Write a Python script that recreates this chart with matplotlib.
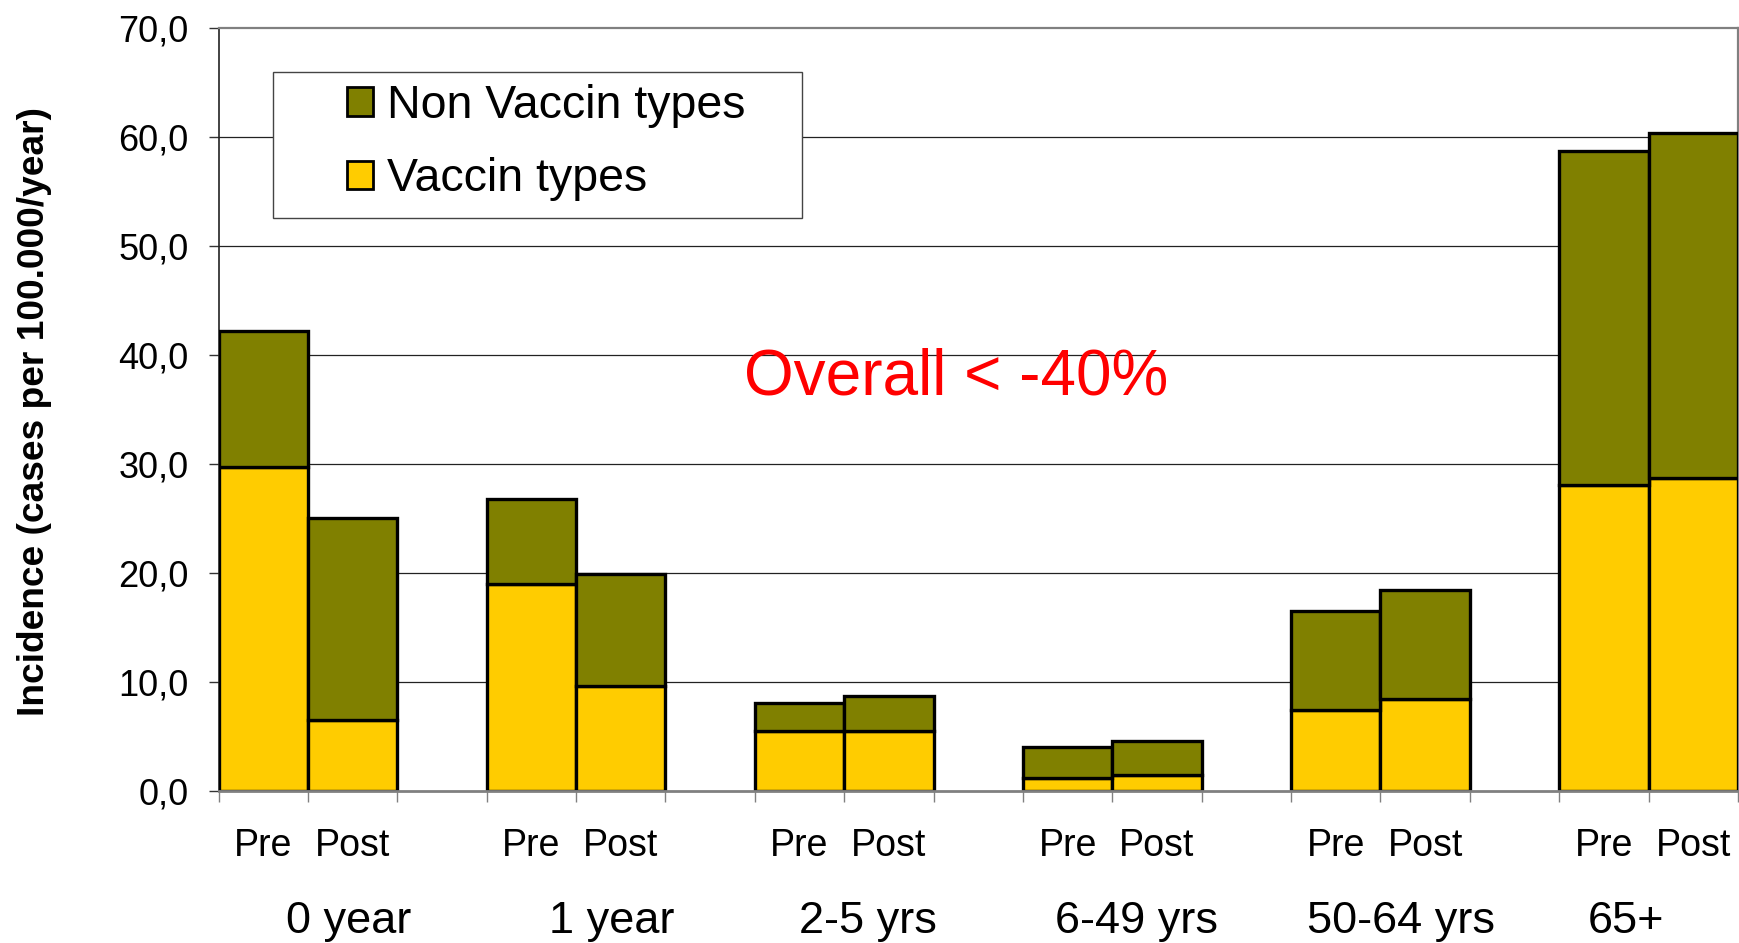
import numpy as np
import matplotlib
matplotlib.use("Agg")
import matplotlib.pyplot as plt
from matplotlib.patches import Patch, Rectangle
from matplotlib.transforms import blended_transform_factory

# Data (incidence per 100.000/year)
age_groups = ["0 year", "1 year", "2-5 yrs", "6-49 yrs", "50-64 yrs", "65+"]
periods = ["Pre", "Post"]
vaccin_pre = [29.7, 19.0, 5.5, 1.2, 7.4, 28.1]
vaccin_post = [6.5, 9.6, 5.5, 1.5, 8.4, 28.7]
non_vaccin_pre = [12.5, 7.8, 2.6, 2.8, 9.1, 30.6]
non_vaccin_post = [18.5, 10.3, 3.2, 3.1, 10.0, 31.6]
y_ticks = [0, 10, 20, 30, 40, 50, 60, 70]
y_tick_labels = ["0,0", "10,0", "20,0", "30,0", "40,0", "50,0", "60,0", "70,0"]

OLIVE = "#808000"
GOLD = "#FFCC00"

plt.rcParams["font.family"] = ["Liberation Sans", "DejaVu Sans"]

fig = plt.figure(figsize=(17.4, 9.43), dpi=100)
W, H = 1740, 943
# plot area in pixels: left 218.6, right 1738, top 27.7, bottom 791
ax = fig.add_axes([218.6 / W, 1 - 791 / H, (1738 - 218.6) / W, (791 - 27.7) / H])

# each age group takes 3 slots: Pre, Post, empty
slot = 3
for g in range(len(age_groups)):
    xs = [g * slot + 0.5, g * slot + 1.5]
    vac = [vaccin_pre[g], vaccin_post[g]]
    non = [non_vaccin_pre[g], non_vaccin_post[g]]
    ax.bar(xs, vac, width=1.0, color=GOLD, edgecolor="black", linewidth=2.4, zorder=3)
    ax.bar(xs, non, width=1.0, bottom=vac, color=OLIVE, edgecolor="black",
           linewidth=2.4, zorder=3)

ax.set_xlim(0, slot * len(age_groups) - 1)
ax.set_ylim(0, 70)

# gridlines
for v in y_ticks[1:-1]:
    ax.axhline(v, color="#222222", linewidth=0.9, zorder=1)

ax.set_yticks(y_ticks)
ax.set_yticklabels(y_tick_labels, fontsize=26)
ax.tick_params(axis="y", direction="out", length=7.5, width=1.0, color="#333333", pad=14)
ax.set_xticks(np.arange(0, slot * len(age_groups)))
ax.set_xticklabels([])
ax.tick_params(axis="x", direction="out", length=8, width=1.0, color="#808080")

for side in ["top", "right"]:
    ax.spines[side].set_color("#808080")
    ax.spines[side].set_linewidth(1.6)
ax.spines["bottom"].set_color("#808080")
ax.spines["bottom"].set_linewidth(2.0)
ax.spines["bottom"].set_zorder(4)
ax.spines["left"].set_color("#222222")
ax.spines["left"].set_linewidth(1.2)

# category labels under the axis
trans = blended_transform_factory(ax.transData, ax.transAxes)
for g in range(len(age_groups)):
    for i, p in enumerate(periods):
        ax.text(g * slot + 0.5 + i, -0.0852, p, transform=trans, ha="center",
                va="baseline", fontsize=27)

group_label_x = [1.45, 4.40, 7.27, 10.27, 13.23, 15.75]
for gx, lab in zip(group_label_x, age_groups):
    ax.text(gx, -0.186, lab, transform=trans, ha="center", va="baseline", fontsize=32.5)

ax.text(8.25, 36.4, "Overall < -40%", color="#FF0000", fontsize=46,
        ha="center", va="baseline", zorder=5)

# legend frame (pixels 273..802 x 71.7..218)
ax_w, ax_h = 1738 - 218.6, 791 - 27.7
frame = Rectangle(((273 - 218.6) / ax_w, (791 - 218) / ax_h),
                  (802 - 273) / ax_w, (218 - 71.7) / ax_h,
                  transform=ax.transAxes, facecolor="white", edgecolor="#444444",
                  linewidth=1.0, zorder=6, clip_on=False)
ax.add_patch(frame)

handles = [Patch(facecolor=OLIVE, edgecolor="black", linewidth=2.0, label="Non Vaccin types"),
           Patch(facecolor=GOLD, edgecolor="black", linewidth=2.0, label="Vaccin types")]
leg = ax.legend(handles=handles, loc="upper left",
                bbox_to_anchor=((347 - 218.6) / ax_w, (791 - 84) / ax_h),
                frameon=False, fontsize=33.5, borderaxespad=0, borderpad=0,
                handlelength=0.56, handleheight=0.56, handletextpad=0.3,
                labelspacing=0.63)
leg.set_zorder(7)

fig.text(35 / W, 1 - 412 / H, "Incidence (cases per 100.000/year)", rotation=90,
         fontsize=26.7, fontweight="bold", ha="center", va="center")

fig.savefig("out.png", dpi=100)
